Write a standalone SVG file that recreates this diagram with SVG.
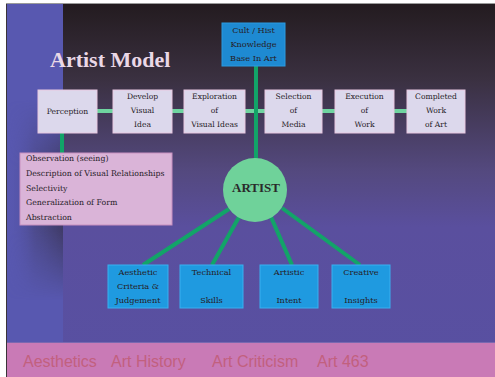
<svg xmlns="http://www.w3.org/2000/svg" width="495" height="377" viewBox="0 0 495 377">
<defs>
<linearGradient id="bg" x1="0" y1="0" x2="0" y2="1">
<stop offset="0" stop-color="#231b1f"/>
<stop offset="0.2" stop-color="#3a3040"/>
<stop offset="0.45" stop-color="#54497f"/>
<stop offset="0.6" stop-color="#5a4f9e"/>
<stop offset="1" stop-color="#5850a2"/>
</linearGradient>
<linearGradient id="side" x1="0" y1="0" x2="1" y2="0">
<stop offset="0" stop-color="#5a58b0" stop-opacity="0"/>
<stop offset="0.5" stop-color="#3a3450" stop-opacity="0.35"/>
<stop offset="1" stop-color="#302838" stop-opacity="0.6"/>
</linearGradient>
<linearGradient id="sidev" x1="0" y1="0" x2="0" y2="1">
<stop offset="0" stop-color="#fff" stop-opacity="0"/>
<stop offset="0.35" stop-color="#fff" stop-opacity="1"/>
<stop offset="0.65" stop-color="#fff" stop-opacity="1"/>
<stop offset="1" stop-color="#fff" stop-opacity="0"/>
</linearGradient>
<mask id="sm"><rect x="6" y="100" width="57" height="200" fill="url(#sidev)"/></mask>
</defs>
<style>
.step{fill:#dcd8ec;stroke:#e8c8e0;stroke-width:1}
.sk{fill:#1f9ae0;stroke:#3ab0f0;stroke-width:1}
.t{font-family:"DejaVu Serif","Liberation Serif",serif;font-size:7.6px;fill:#262026;text-anchor:middle}
.tb{font-size:8.2px}
.tl{font-family:"DejaVu Serif","Liberation Serif",serif;font-size:7.8px;fill:#262026}
.ft{font-family:"Liberation Sans",Arial,sans-serif;font-size:16px;fill:#c2607e}
.hl{stroke:#6fd4a0;stroke-width:4}
.vl{stroke:#12a468;stroke-width:4}
</style>
<rect x="0" y="0" width="495" height="377" fill="#ffffff"/>
<rect x="6" y="3" width="489" height="374" fill="url(#bg)"/>
<rect x="6" y="3" width="57" height="340" fill="#5858b0"/>
<rect x="6" y="100" width="57" height="200" fill="url(#side)" mask="url(#sm)"/>
<rect x="6" y="342" width="489" height="35" fill="#c97ab6"/>
<line x1="6" y1="342.5" x2="495" y2="342.5" stroke="#7a68b0" stroke-width="1"/>
<line x1="6.5" y1="3" x2="6.5" y2="377" stroke="#3a3438" stroke-width="1"/>
<line x1="6" y1="3.5" x2="495" y2="3.5" stroke="#9a9a9a" stroke-width="1"/>
<text class="ft" x="23" y="367">Aesthetics</text>
<text class="ft" x="111" y="367">Art History</text>
<text class="ft" x="212" y="367">Art Criticism</text>
<text class="ft" x="317" y="367">Art 463</text>
<text x="50" y="67" font-family="Liberation Serif, Times New Roman, serif" font-size="22" font-weight="bold" fill="#ead8e6">Artist Model</text>

<g id="connectors">
<line class="hl" x1="97" y1="111" x2="113" y2="111"/>
<line class="hl" x1="172" y1="111" x2="184" y2="111"/>
<line class="hl" x1="245" y1="111" x2="265" y2="111"/>
<line class="hl" x1="322" y1="111" x2="335" y2="111"/>
<line class="hl" x1="394" y1="111" x2="407" y2="111"/>
<line class="vl" x1="256" y1="66" x2="256" y2="160"/>
<line class="vl" x1="62" y1="133" x2="62" y2="153"/>
<line class="vl" x1="229" y1="209" x2="143" y2="265"/>
<line class="vl" x1="239" y1="217" x2="212" y2="265"/>
<line class="vl" x1="271" y1="217" x2="292" y2="265"/>
<line class="vl" x1="282" y1="208" x2="360" y2="265"/>
</g>

<g id="knowledge">
<rect x="222" y="23" width="63" height="43" fill="#1e8ad2" stroke="#2a9ae0"/>
<text class="t tb" x="253.5" y="33">Cult / Hist</text>
<text class="t tb" x="253.5" y="47">Knowledge</text>
<text class="t tb" x="253.5" y="61">Base In Art</text>
</g>

<g id="perception">
<rect class="step" x="38" y="90" width="59" height="43"/>
<text class="t" x="67.5" y="114">Perception</text>
</g>
<g id="develop">
<rect class="step" x="113" y="90" width="59" height="43"/>
<text class="t" x="142.5" y="99">Develop</text>
<text class="t" x="142.5" y="113">Visual</text>
<text class="t" x="142.5" y="127">Idea</text>
</g>
<g id="exploration">
<rect class="step" x="184" y="90" width="61" height="43"/>
<text class="t" x="214.5" y="99">Exploration</text>
<text class="t" x="214.5" y="113">of</text>
<text class="t" x="214.5" y="127">Visual Ideas</text>
</g>
<g id="selection">
<rect class="step" x="265" y="90" width="57" height="43"/>
<text class="t" x="293.5" y="99">Selection</text>
<text class="t" x="293.5" y="113">of</text>
<text class="t" x="293.5" y="127">Media</text>
</g>
<g id="execution">
<rect class="step" x="335" y="90" width="59" height="43"/>
<text class="t" x="364.5" y="99">Execution</text>
<text class="t" x="364.5" y="113">of</text>
<text class="t" x="364.5" y="127">Work</text>
</g>
<g id="completed">
<rect class="step" x="407" y="90" width="58" height="43"/>
<text class="t" x="436" y="99">Completed</text>
<text class="t" x="436" y="113">Work</text>
<text class="t" x="436" y="127">of Art</text>
</g>

<g id="perception-list">
<rect x="20" y="153" width="152" height="72" fill="#dab4d8" stroke="#c890c0"/>
<text class="tl" x="26" y="161">Observation (seeing)</text>
<text class="tl" x="26" y="176">Description of Visual Relationships</text>
<text class="tl" x="26" y="191">Selectivity</text>
<text class="tl" x="26" y="205">Generalization of Form</text>
<text class="tl" x="26" y="220">Abstraction</text>
</g>

<g id="artist">
<circle cx="255" cy="190" r="32" fill="#6fd29a"/>
<text x="256" y="192" font-family="Liberation Serif, Times New Roman, serif" font-size="13" font-weight="bold" fill="#2a2a2a" text-anchor="middle">ARTIST</text>
</g>

<g id="aesthetic">
<rect class="sk" x="108" y="265" width="60" height="43"/>
<text class="t tb" x="138" y="275">Aesthetic</text>
<text class="t tb" x="138" y="289">Criteria &amp;</text>
<text class="t tb" x="138" y="303">Judgement</text>
</g>
<g id="technical">
<rect class="sk" x="180" y="265" width="63" height="43"/>
<text class="t tb" x="211.5" y="275">Technical</text>
<text class="t tb" x="211.5" y="303">Skills</text>
</g>
<g id="artistic">
<rect class="sk" x="260" y="265" width="58" height="43"/>
<text class="t tb" x="289" y="275">Artistic</text>
<text class="t tb" x="289" y="303">Intent</text>
</g>
<g id="creative">
<rect class="sk" x="332" y="265" width="58" height="43"/>
<text class="t tb" x="361" y="275">Creative</text>
<text class="t tb" x="361" y="303">Insights</text>
</g>
</svg>
